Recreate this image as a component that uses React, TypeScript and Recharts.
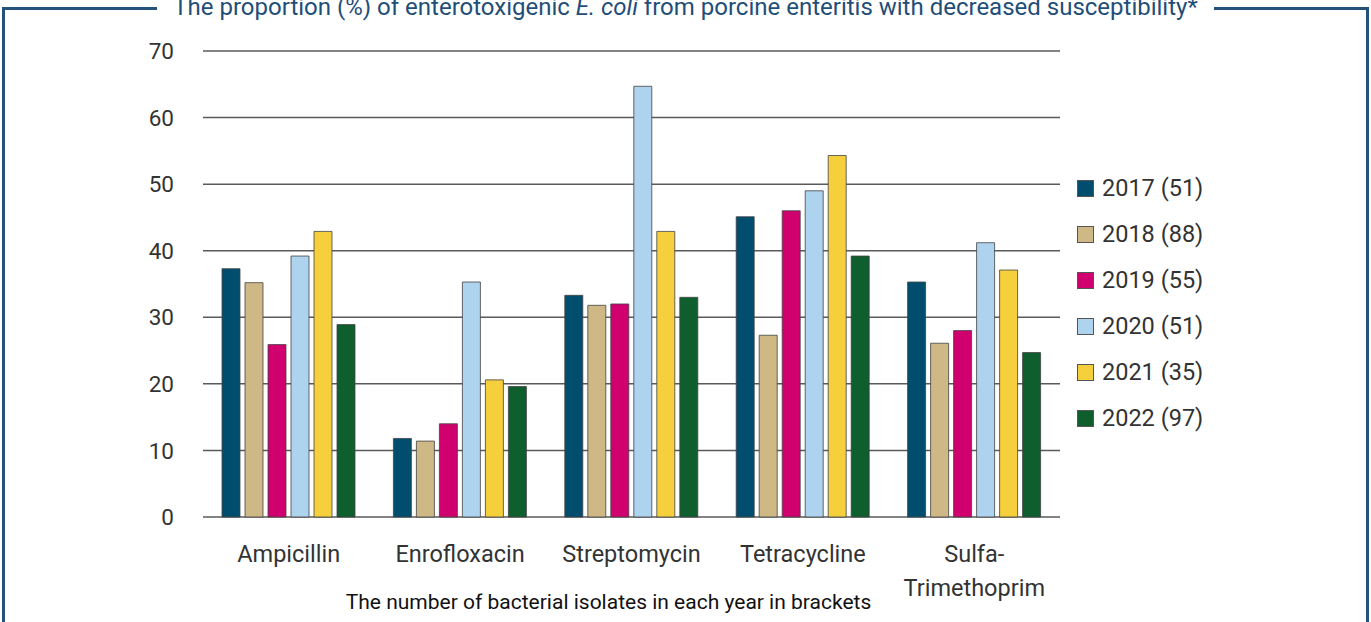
import React from "react";
import { BarChart, Bar, XAxis, YAxis, CartesianGrid } from "recharts";

const categories = ["Ampicillin", "Enrofloxacin", "Streptomycin", "Tetracycline", "Sulfa-\nTrimethoprim"];
const seriesNames = ["2017 (51)", "2018 (88)", "2019 (55)", "2020 (51)", "2021 (35)", "2022 (97)"];
const v2017 = [37.3, 11.8, 33.3, 45.1, 35.3];
const v2018 = [35.2, 11.4, 31.8, 27.3, 26.1];
const v2019 = [25.9, 14.0, 32.0, 46.0, 28.0];
const v2020 = [39.2, 35.3, 64.7, 49.0, 41.2];
const v2021 = [42.9, 20.6, 42.9, 54.3, 37.1];
const v2022 = [28.9, 19.6, 33.0, 39.2, 24.7];
const yTicks = [0, 10, 20, 30, 40, 50, 60, 70];
const titleBefore = "The proportion (%) of enterotoxigenic ";
const titleItalic = "E. coli";
const titleAfter = " from porcine enteritis with decreased susceptibility*";
const captionText = "The number of bacterial isolates in each year in brackets";

const colors = ["#004d6e", "#cdb886", "#d1006f", "#aed3ee", "#f6cf3d", "#0e5e2e"];
const seriesValues = [v2017, v2018, v2019, v2020, v2021, v2022];
const keys = ["y2017", "y2018", "y2019", "y2020", "y2021", "y2022"];

const data = categories.map((c, i) => {
  const row: any = { name: c };
  keys.forEach((k, j) => (row[k] = seriesValues[j][i]));
  return row;
});

const FONT = "Roboto, sans-serif";

const XTick = (props: any) => {
  const { x, y, payload } = props;
  const lines = String(payload.value).split("\n");
  return (
    <text x={x} y={y} textAnchor="middle" fill="#333" fontSize={23.5} fontFamily={FONT}>
      {lines.map((l, i) => (
        <tspan key={i} x={x} dy={i === 0 ? 45 : 34}>
          {l}
        </tspan>
      ))}
    </text>
  );
};

const YTick = (props: any) => {
  const { x, y, payload } = props;
  return (
    <text x={x} y={y} dy="0.36em" textAnchor="end" fill="#333" fontSize={22.5} fontFamily={FONT}>
      {payload.value}
    </text>
  );
};

export default function App() {
  return (
    <div style={{ position: "relative", width: 1371, height: 622, overflow: "hidden", background: "#fff" }}>
      <style>{"body{margin:0}"}</style>
      <div
        style={{
          position: "absolute",
          left: 2,
          top: 7,
          width: 1361,
          height: 700,
          border: "3px solid #24527a",
        }}
      />
      <div
        style={{
          position: "absolute",
          left: 0,
          width: 1371,
          top: -7,
          textAlign: "center",
          fontFamily: FONT,
          fontSize: 24,
          color: "#1f4e79",
          whiteSpace: "nowrap",
        }}
      >
        <span style={{ background: "#fff", padding: "0 16px" }}>
          {titleBefore}
          <i>{titleItalic}</i>
          {titleAfter}
        </span>
      </div>
      <div style={{ position: "absolute", left: 0, top: 0 }}>
        <BarChart
          width={1371}
          height={622}
          data={data}
          margin={{ top: 51, right: 311, bottom: 65, left: 143 }}
          barSize={18}
          barGap={5}
        >
          <CartesianGrid vertical={false} stroke="#5a5a5a" strokeWidth={1.5} />
          <XAxis
            dataKey="name"
            axisLine={false}
            tickLine={false}
            tickSize={0}
            tickMargin={0}
            height={40}
            interval={0}
            tick={<XTick />}
          />
          <YAxis
            domain={[0, 70]}
            ticks={yTicks}
            axisLine={false}
            tickLine={false}
            tickSize={0}
            tickMargin={29}
            width={60}
            tick={<YTick />}
          />
          {keys.map((k, j) => (
            <Bar
              key={k}
              dataKey={k}
              name={seriesNames[j]}
              fill={colors[j]}
              stroke="#444"
              strokeOpacity={0.8}
              strokeWidth={1}
              isAnimationActive={false}
            />
          ))}
        </BarChart>
      </div>
      <div style={{ position: "absolute", left: 1077, top: 165, fontFamily: FONT }}>
        {seriesNames.map((n, i) => (
          <div key={n} style={{ display: "flex", alignItems: "center", height: 46 }}>
            <div
              style={{
                width: 15,
                height: 15,
                background: colors[i],
                border: "1px solid #555",
                marginRight: 8,
                flexShrink: 0,
              }}
            />
            <span style={{ fontSize: 23.5, color: "#333", whiteSpace: "nowrap" }}>{n}</span>
          </div>
        ))}
      </div>
      <div
        style={{
          position: "absolute",
          left: 0,
          width: 1217,
          top: 590,
          textAlign: "center",
          fontFamily: FONT,
          fontSize: 21,
          color: "#111",
          whiteSpace: "nowrap",
        }}
      >
        {captionText}
      </div>
    </div>
  );
}
